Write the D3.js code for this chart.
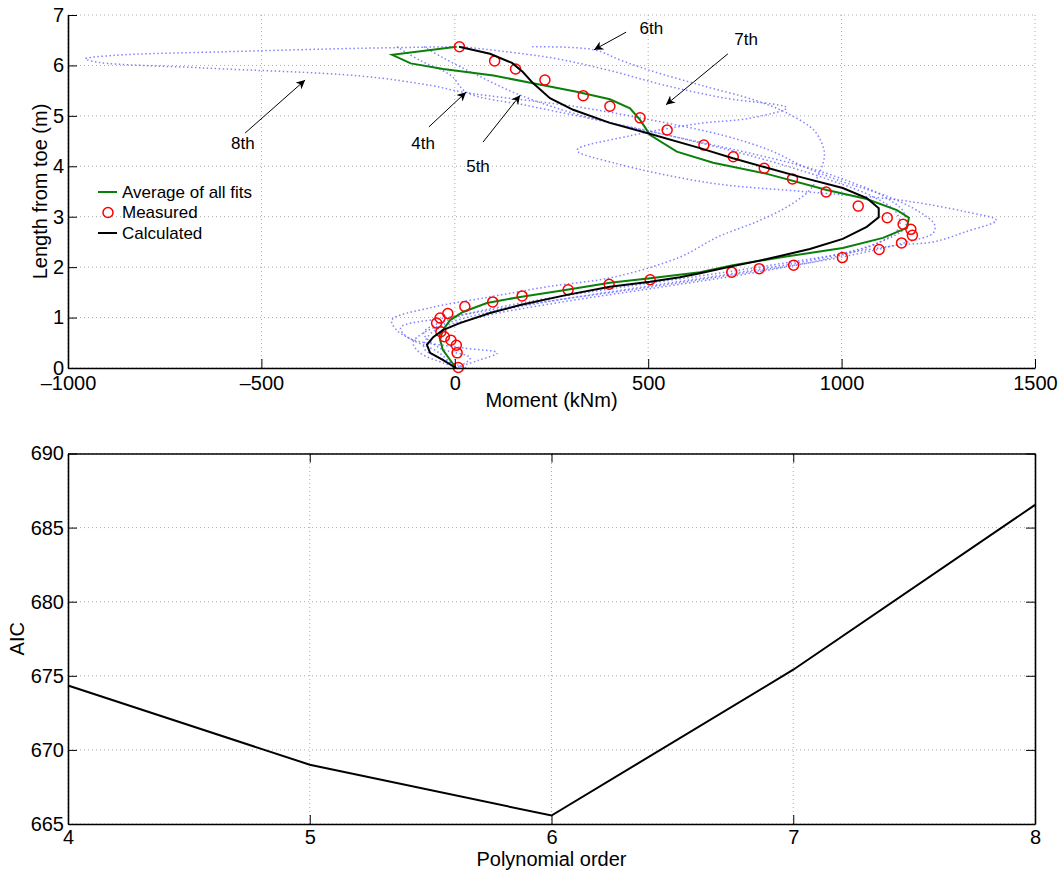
<!DOCTYPE html>
<html>
<head>
<meta charset="utf-8">
<script src="https://cdn.jsdelivr.net/npm/d3@7"></script>
<style>
    body { margin: 0; background: #fff; }
    svg { font-family: 'Liberation Sans', Arial, Helvetica, sans-serif; }
</style>
</head>
<body>
<svg id="chart" width="1063" height="872"></svg>
<script>
// measured moments [kNm, length from toe m]
const measured = [
    [12, 6.37], [103, 6.09], [157, 5.93], [233, 5.71], [332, 5.40], [401, 5.19],
    [479, 4.96], [549, 4.72], [644, 4.42], [720, 4.19], [800, 3.96], [873, 3.75],
    [960, 3.49], [1043, 3.21], [1118, 2.98], [1159, 2.85], [1179, 2.75], [1183, 2.63],
    [1155, 2.48], [1097, 2.35], [1002, 2.19], [876, 2.04], [787, 1.97], [716, 1.90],
    [505, 1.75], [399, 1.66], [293, 1.55], [174, 1.43], [98, 1.31], [26, 1.22],
    [-18, 1.08], [-38, 0.99], [-47, 0.89], [-36, 0.72], [-27, 0.62], [-10, 0.55],
    [4, 0.45], [6, 0.30], [9, 0.01]
];

const calculated = [
    [11, 6.37], [91, 6.23], [148, 6.05], [176, 5.87], [202, 5.65], [246, 5.35],
    [306, 5.12], [401, 4.86], [497, 4.66], [634, 4.36], [719, 4.16], [807, 3.97],
    [892, 3.79], [1003, 3.57], [1065, 3.37], [1096, 3.17], [1096, 2.99], [1065, 2.80],
    [1003, 2.56], [918, 2.36], [807, 2.16], [719, 2.02], [634, 1.88], [582, 1.80],
    [505, 1.71], [401, 1.61], [290, 1.45], [169, 1.25], [91, 1.09], [13, 0.89],
    [-31, 0.75], [-56, 0.61], [-72, 0.46], [-64, 0.30], [-31, 0.16], [3, 0]
];

const average = [
    [5, 6.37], [-162, 6.21], [-114, 6.04], [-30, 5.93], [100, 5.80], [212, 5.63],
    [315, 5.48], [401, 5.33], [453, 5.15], [479, 4.92], [505, 4.62], [574, 4.29],
    [668, 4.07], [807, 3.85], [962, 3.53], [1065, 3.35], [1143, 3.13], [1174, 2.98],
    [1169, 2.78], [1107, 2.58], [1003, 2.38], [848, 2.20], [719, 2.04], [634, 1.90],
    [505, 1.78], [401, 1.69], [290, 1.55], [169, 1.41], [83, 1.29], [21, 1.11],
    [-12, 0.95], [-31, 0.75], [-38, 0.56], [-31, 0.36], [3, 0]
];

// polynomial fits, 4th to 8th order
const fit4 = [
    [-150, 6.37], [-90, 6.1], [-10, 5.8], [30, 5.47], [190, 5.2], [380, 4.9], [560, 4.6],
    [720, 4.3], [860, 4.0], [980, 3.7], [1080, 3.4], [1140, 3.1], [1150, 2.8], [1100, 2.5],
    [980, 2.2], [780, 1.9], [530, 1.6], [270, 1.3], [60, 1.0], [-60, 0.7], [-80, 0.4],
    [-40, 0.2], [30, 0]
];
const fit5 = [
    [-80, 6.37], [-30, 6.15], [60, 5.8], [166, 5.42], [330, 5.0], [560, 4.6], [740, 4.3],
    [900, 4.0], [1020, 3.7], [1110, 3.4], [1160, 3.1], [1165, 2.8], [1100, 2.5], [960, 2.2],
    [740, 1.9], [480, 1.6], [230, 1.3], [30, 1.0], [-80, 0.7], [-108, 0.5], [-90, 0.3],
    [-30, 0.1], [10, 0]
];
const fit6 = [
    [200, 6.37], [360, 6.31], [430, 6.1], [505, 5.9], [640, 5.6], [780, 5.3], [860, 5.05],
    [930, 4.7], [955, 4.3], [952, 4.06], [935, 3.75], [918, 3.53], [860, 3.2], [780, 2.9],
    [680, 2.6], [582, 2.2], [409, 1.8], [238, 1.61], [91, 1.41], [-60, 1.2], [-163, 0.95],
    [-150, 0.75], [-108, 0.55], [-40, 0.3], [0, 0]
];
const fit7 = [
    [20, 6.37], [250, 6.15], [400, 5.9], [546, 5.6], [700, 5.35], [858, 5.16], [760, 4.95],
    [633, 4.85], [450, 4.6], [316, 4.32], [420, 4.05], [660, 3.67], [900, 3.5], [1150, 3.33],
    [1320, 3.1], [1400, 2.93], [1320, 2.7], [1237, 2.5], [1150, 2.44], [950, 2.2], [700, 1.9],
    [430, 1.6], [180, 1.3], [0, 1.0], [-80, 0.7], [-40, 0.4], [40, 0.2], [5, 0]
];
const fit8 = [
    [0, 6.37], [-244, 6.34], [-600, 6.27], [-880, 6.2], [-955, 6.13], [-920, 6.06],
    [-650, 5.95], [-244, 5.79], [-60, 5.6], [21, 5.47], [316, 5.18], [520, 4.9], [700, 4.6],
    [820, 4.3], [900, 4.0], [1000, 3.7], [1120, 3.4], [1200, 3.1], [1240, 2.85], [1237, 2.68],
    [1170, 2.5], [1000, 2.2], [760, 1.9], [500, 1.6], [220, 1.3], [-20, 1.0], [-140, 0.8],
    [-120, 0.6], [20, 0.4], [110, 0.3], [60, 0.15], [0, 0]
];
const fits = [fit4, fit5, fit6, fit7, fit8];

// label, text at [M, L], arrow from [M, L] to [M, L]
const notes = [
    ['8th', [-548, 4.46], [-542, 4.66], [-387, 5.71]],
    ['4th', [-82, 4.46], [-67, 4.78], [29, 5.47]],
    ['5th', [60, 4.01], [73, 4.48], [169, 5.41]],
    ['6th', [508, 6.74], [443, 6.66], [360, 6.31]],
    ['7th', [753, 6.52], [706, 6.23], [546, 5.22]]
];

const momentTicks = [-1000, -500, 0, 500, 1000, 1500];
const lengthTicks = [0, 1, 2, 3, 4, 5, 6, 7];

const orders = [4, 5, 6, 7, 8];
const aic = [674.35, 669.0, 665.57, 675.41, 686.53];
const aicTicks = [665, 670, 675, 680, 685, 690];

const TICK = 9;
const TICK_FONT = 20;

const svg = d3.select('#chart');

const fmt = (d) => (d < 0 ? '\u2013' + Math.abs(d) : String(d));

function styleAxis(g) {
    g.select('.domain').attr('stroke', '#000').attr('stroke-width', 1.6);
    g.selectAll('.tick line').attr('stroke', '#000').attr('stroke-width', 1);
    g.selectAll('.tick text')
        .attr('fill', '#000')
        .style('font-size', TICK_FONT + 'px');
}

function drawGrid(g, x, y, xTicks, yTicks) {
    const [xa, xb] = x.range();
    const [ya, yb] = y.range();
    g.selectAll('.vgrid')
        .data(xTicks)
        .join('line')
        .attr('x1', (d) => x(d))
        .attr('x2', (d) => x(d))
        .attr('y1', ya)
        .attr('y2', yb)
        .attr('stroke', '#aaa')
        .attr('stroke-dasharray', '1,3');
    g.selectAll('.hgrid')
        .data(yTicks)
        .join('line')
        .attr('x1', xa)
        .attr('x2', xb)
        .attr('y1', (d) => y(d))
        .attr('y2', (d) => y(d))
        .attr('stroke', '#aaa')
        .attr('stroke-dasharray', '1,3');
}

// ---------- upper panel: moment vs length ----------
const xM = d3.scaleLinear().domain([-1000, 1500]).range([68, 1035]);
const yL = d3.scaleLinear().domain([0, 7]).range([368, 15]);

const upper = svg.append('g');
drawGrid(upper.append('g'), xM, yL, momentTicks, lengthTicks);

const straight = d3
    .line()
    .x((d) => xM(d[0]))
    .y((d) => yL(d[1]));

const smooth = d3
    .line()
    .x((d) => xM(d[0]))
    .y((d) => yL(d[1]))
    .curve(d3.curveCatmullRom.alpha(0.5));

upper.append('g')
    .selectAll('path')
    .data(fits)
    .join('path')
    .attr('d', smooth)
    .attr('fill', 'none')
    .attr('stroke', '#5a5aff')
    .attr('stroke-opacity', 0.75)
    .attr('stroke-width', 1.5)
    .attr('stroke-dasharray', '1.5,2.5');

upper.append('path')
    .attr('d', straight(average))
    .attr('fill', 'none')
    .attr('stroke', '#0a7f0a')
    .attr('stroke-width', 2);

upper.append('g')
    .selectAll('circle')
    .data(measured)
    .join('circle')
    .attr('cx', (d) => xM(d[0]))
    .attr('cy', (d) => yL(d[1]))
    .attr('r', 5)
    .attr('fill', 'none')
    .attr('stroke', '#f00')
    .attr('stroke-width', 1.5);

upper.append('path')
    .attr('d', straight(calculated))
    .attr('fill', 'none')
    .attr('stroke', '#000')
    .attr('stroke-width', 2);

// arrow annotations
svg.append('defs')
    .append('marker')
    .attr('id', 'head')
    .attr('viewBox', '0 0 10 10')
    .attr('refX', 10)
    .attr('refY', 5)
    .attr('markerWidth', 9)
    .attr('markerHeight', 9)
    .attr('markerUnits', 'userSpaceOnUse')
    .attr('orient', 'auto')
    .append('path')
    .attr('d', 'M0,0 L10,5 L0,10 L3,5 Z')
    .attr('fill', '#000');

const ann = upper.append('g');
notes.forEach(([label, t, a, b]) => {
    ann.append('line')
        .attr('x1', xM(a[0]))
        .attr('y1', yL(a[1]))
        .attr('x2', xM(b[0]))
        .attr('y2', yL(b[1]))
        .attr('stroke', '#000')
        .attr('stroke-width', 1)
        .attr('marker-end', 'url(#head)');
    ann.append('text')
        .attr('x', xM(t[0]))
        .attr('y', yL(t[1]))
        .attr('text-anchor', 'middle')
        .attr('dy', '0.35em')
        .style('font-size', '17px')
        .text(label);
});

upper.append('g')
    .attr('transform', `translate(0,${yL(0)})`)
    .call(d3.axisBottom(xM).tickValues(momentTicks).tickFormat(fmt).tickSize(-TICK).tickSizeOuter(0).tickPadding(8))
    .call(styleAxis);

upper.append('g')
    .attr('transform', `translate(${xM(-1000)},0)`)
    .call(d3.axisLeft(yL).tickValues(lengthTicks).tickFormat(fmt).tickSize(-TICK).tickSizeOuter(0).tickPadding(4))
    .call(styleAxis);

upper.append('text')
    .attr('x', (xM.range()[0] + xM.range()[1]) / 2)
    .attr('y', 407)
    .attr('text-anchor', 'middle')
    .style('font-size', TICK_FONT + 'px')
    .text('Moment (kNm)');

upper.append('text')
    .attr('transform', `translate(40,${(yL.range()[0] + yL.range()[1]) / 2}) rotate(-90)`)
    .attr('text-anchor', 'middle')
    .attr('dy', '0.35em')
    .style('font-size', TICK_FONT + 'px')
    .text('Length from toe (m)');

// legend
const legendItems = [
    ['line', '#0a7f0a', 'Average of all fits'],
    ['circle', '#f00', 'Measured'],
    ['line', '#000', 'Calculated']
];
const legend = upper.append('g').attr('transform', 'translate(98,192)');
legendItems.forEach(([kind, color, label], i) => {
    const row = legend.append('g').attr('transform', `translate(0,${i * 20.5})`);
    if (kind === 'line') {
        row.append('line')
            .attr('x1', 0)
            .attr('x2', 19)
            .attr('stroke', color)
            .attr('stroke-width', 2);
    } else {
        row.append('circle')
            .attr('cx', 10)
            .attr('r', 5)
            .attr('fill', 'none')
            .attr('stroke', color)
            .attr('stroke-width', 1.5);
    }
    row.append('text')
        .attr('x', 24)
        .attr('dy', '0.35em')
        .style('font-size', '17px')
        .text(label);
});

// ---------- lower panel: AIC vs polynomial order ----------
const xO = d3.scaleLinear().domain([4, 8]).range([68, 1035]);
const yA = d3.scaleLinear().domain([665, 690]).range([824, 453.5]);

const lower = svg.append('g');
drawGrid(lower.append('g'), xO, yA, orders, aicTicks);

lower.append('path')
    .datum(orders.map((o, i) => [o, aic[i]]))
    .attr('d', d3.line().x((d) => xO(d[0])).y((d) => yA(d[1])))
    .attr('fill', 'none')
    .attr('stroke', '#000')
    .attr('stroke-width', 2);

lower.append('g')
    .attr('transform', `translate(0,${yA(665)})`)
    .call(d3.axisBottom(xO).tickValues(orders).tickFormat(d3.format('d')).tickSize(-TICK).tickSizeOuter(0).tickPadding(6))
    .call(styleAxis);
lower.append('g')
    .attr('transform', `translate(0,${yA(690)})`)
    .call(d3.axisTop(xO).tickValues(orders).tickFormat('').tickSize(-TICK).tickSizeOuter(0))
    .call(styleAxis);
lower.append('g')
    .attr('transform', `translate(${xO(4)},0)`)
    .call(d3.axisLeft(yA).tickValues(aicTicks).tickFormat(d3.format('d')).tickSize(-TICK).tickSizeOuter(0).tickPadding(4))
    .call(styleAxis);
lower.append('g')
    .attr('transform', `translate(${xO(8)},0)`)
    .call(d3.axisRight(yA).tickValues(aicTicks).tickFormat('').tickSize(-TICK).tickSizeOuter(0))
    .call(styleAxis);

lower.append('text')
    .attr('x', (xO.range()[0] + xO.range()[1]) / 2)
    .attr('y', 866)
    .attr('text-anchor', 'middle')
    .style('font-size', TICK_FONT + 'px')
    .text('Polynomial order');

lower.append('text')
    .attr('transform', `translate(17,${(yA.range()[0] + yA.range()[1]) / 2}) rotate(-90)`)
    .attr('text-anchor', 'middle')
    .attr('dy', '0.35em')
    .style('font-size', TICK_FONT + 'px')
    .text('AIC');
</script>
</body>
</html>
